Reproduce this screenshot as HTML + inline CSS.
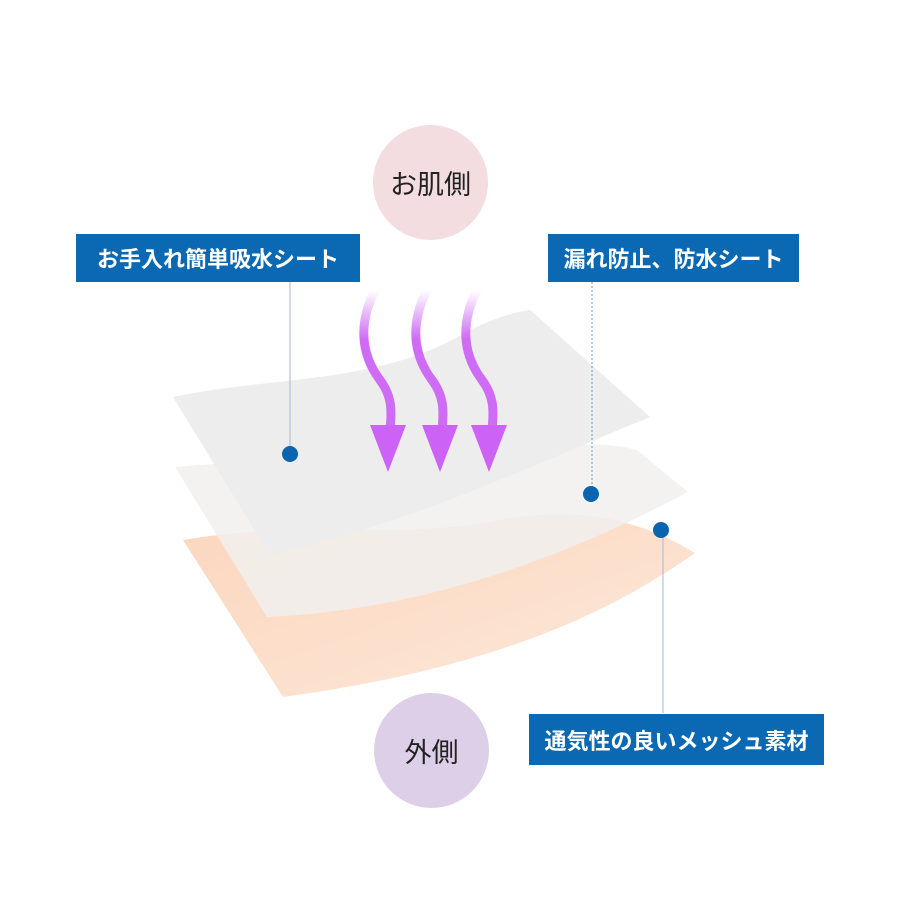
<!DOCTYPE html>
<html><head><meta charset="utf-8"><style>
body{margin:0;width:900px;height:900px;background:#fff;overflow:hidden;position:relative;font-family:"Liberation Sans","Noto Sans CJK JP",sans-serif}
.box{position:absolute;background:#0b68b2;color:#fff;font-size:22px;font-weight:bold;display:flex;align-items:center;justify-content:center}
.circ{position:absolute;border-radius:50%;display:flex;align-items:center;justify-content:center;font-size:27px;color:#222}
</style></head><body>
<svg width="900" height="900" style="position:absolute;left:0;top:0">
<defs>
<linearGradient id="ag" x1="0" y1="0" x2="0" y2="1"><stop offset="0" stop-color="#cf6cf5" stop-opacity="0"/><stop offset="0.35" stop-color="#cf6cf5"/></linearGradient>
<linearGradient id="pk" x1="0" y1="0" x2="1" y2="1"><stop offset="0" stop-color="#fbd6bd"/><stop offset="1" stop-color="#fde8da"/></linearGradient>
</defs>
<path d="M183,540 C300,520 400,540 500,520 C580,505 640,520 695,553 C600,620 480,670 283,697 Z" fill="url(#pk)"/>
<path d="M175,467 C300,455 420,470 520,450 C580,440 620,445 637,450 L688,492 C560,560 420,610 267,617 Z" fill="#f1f0ef" opacity="0.85"/>
<path d="M173,397 C280,375 380,385 470,330 C495,318 515,312 530,310 L650,417 C520,470 420,520 270,555 Z" fill="#e7e7e7"/>
<path d="M173,397 C280,375 380,385 470,330 C495,318 515,312 530,310 L650,417 C520,470 420,520 270,555 Z" fill="#f2f2f2" opacity="0.6"/>
<g stroke="url(#ag)" stroke-width="9" fill="none" stroke-linecap="round">
<path d="M375,290 C355,330 365,360 380,380 C392,396 392,410 390,430"/>
<path d="M427,290 C407,330 417,360 432,380 C444,396 444,410 442,430"/>
<path d="M477,290 C457,330 467,360 482,380 C494,396 494,410 492,430"/>
</g>
<g fill="#cd63f6">
<polygon points="370,425 406,425 388,472"/>
<polygon points="422,425 458,425 440,472"/>
<polygon points="471,425 507,425 489,472"/>
</g>
<g stroke="#9bbcd6" stroke-width="1">
<line x1="290" y1="282" x2="290" y2="454"/>
<line x1="592" y1="282" x2="592" y2="494" stroke-dasharray="2,2" stroke="#6b9bc8"/>
<line x1="663" y1="530" x2="663" y2="713"/>
</g>
<g fill="#0b64b0">
<circle cx="290" cy="454" r="8"/><circle cx="591" cy="494" r="8"/><circle cx="661" cy="530" r="8"/>
</g>
</svg>
<div class="circ" style="left:373px;top:125px;width:115px;height:115px;background:#f3dde0">お肌側</div>
<div class="circ" style="left:374px;top:693px;width:115px;height:115px;background:#dccfe7">外側</div>
<div class="box" style="left:76px;top:234px;width:284px;height:48px">お手入れ簡単吸水シート</div>
<div class="box" style="left:548px;top:234px;width:251px;height:48px">漏れ防止、防水シート</div>
<div class="box" style="left:529px;top:714px;width:295px;height:51px">通気性の良いメッシュ素材</div>
</body></html>
